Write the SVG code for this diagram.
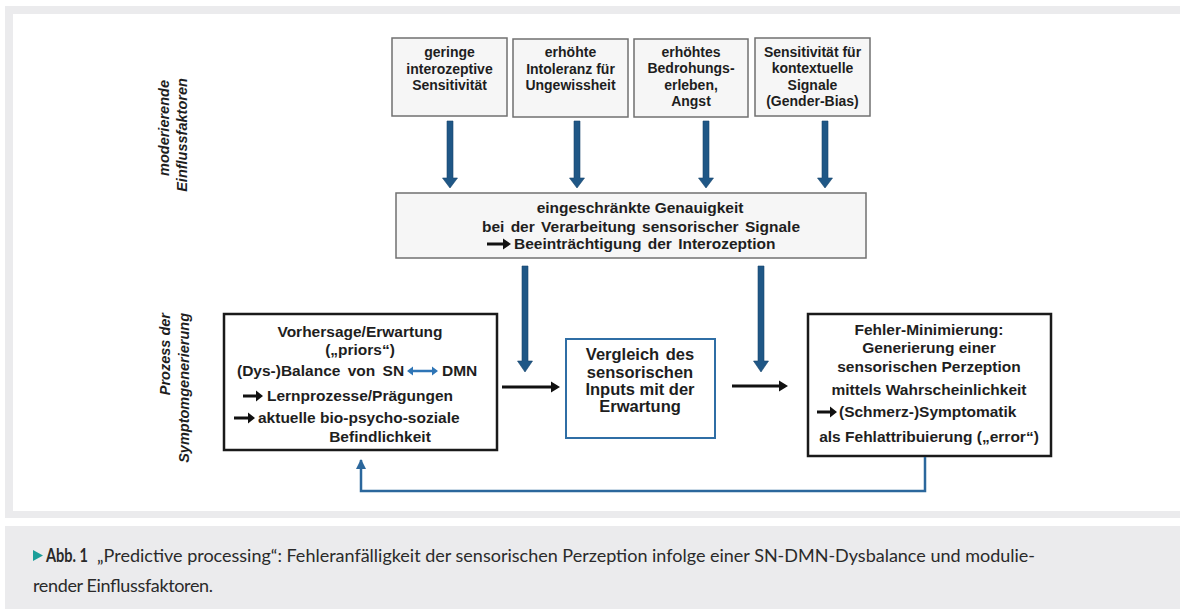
<svg xmlns="http://www.w3.org/2000/svg" width="1180" height="609" viewBox="0 0 1180 609">
<style>
.t{font-family:"Liberation Sans",Arial,sans-serif;font-weight:bold;fill:#1e1e1e}
.s14{font-size:14px}
.s15{font-size:15.5px}
.s16{font-size:16.5px}
.c{text-anchor:middle}
.lab{font-family:"Liberation Sans",Arial,sans-serif;font-weight:bold;font-style:italic;font-size:14.5px;fill:#1e1e1e}
.gbox{fill:#f6f6f6;stroke:#707070;stroke-width:1.5}
.kbox{fill:#ffffff;stroke:#1a1a1a;stroke-width:2.5}
.bbox{fill:#ffffff;stroke:#2f6ea5;stroke-width:2}
.barrow{fill:#1f5786;stroke:#17446b;stroke-width:0.6}
.karrow{fill:#111}
.cap{font-family:Lato,"Open Sans",sans-serif;font-size:18px;fill:#2a2a2a}
</style>
<defs>
<marker id="fb" viewBox="0 0 10 10" refX="9" refY="5" markerWidth="4" markerHeight="4" orient="auto"><path d="M0,0 L10,5 L0,10 z" fill="#2b679c"/></marker>
</defs>
<rect x="0" y="0" width="1180" height="609" fill="#ffffff"/>
<rect x="5" y="6" width="1175" height="512" fill="#ebebed"/>
<rect x="13" y="14" width="1167" height="497" fill="#ffffff"/>
<rect x="5" y="526" width="1175" height="83" fill="#ebebed"/>

<g id="label-moderierende">
<text class="lab" text-anchor="middle" transform="translate(169,128) rotate(-90)">moderierende</text>
<text class="lab" text-anchor="middle" transform="translate(187,135) rotate(-90)">Einflussfaktoren</text>
</g>
<g id="label-prozess">
<text class="lab" text-anchor="end" transform="translate(170,313) rotate(-90)">Prozess der</text>
<text class="lab" text-anchor="end" transform="translate(189,313) rotate(-90)">Symptomgenerierung</text>
</g>

<g id="f1">
<rect class="gbox" x="392" y="38" width="115" height="78"/>
<text class="t s14 c" x="449.5" y="57">geringe</text>
<text class="t s14 c" x="449.5" y="74">interozeptive</text>
<text class="t s14 c" x="449.5" y="90">Sensitivität</text>
</g>
<g id="f2">
<rect class="gbox" x="513" y="39" width="115" height="78"/>
<text class="t s14 c" x="570.5" y="57">erhöhte</text>
<text class="t s14 c" x="570.5" y="74">Intoleranz für</text>
<text class="t s14 c" x="570.5" y="90">Ungewissheit</text>
</g>
<g id="f3">
<rect class="gbox" x="634" y="39" width="114" height="78"/>
<text class="t s14 c" x="691" y="57">erhöhtes</text>
<text class="t s14 c" x="691" y="73">Bedrohungs-</text>
<text class="t s14 c" x="691" y="90">erleben,</text>
<text class="t s14 c" x="691" y="106">Angst</text>
</g>
<g id="f4">
<rect class="gbox" x="755" y="38" width="115" height="78"/>
<text class="t s14 c" x="812.5" y="57">Sensitivität für</text>
<text class="t s14 c" x="812.5" y="73">kontextuelle</text>
<text class="t s14 c" x="812.5" y="90">Signale</text>
<text class="t s14 c" x="812.5" y="106">(Gender-Bias)</text>
</g>

<g id="genauigkeit">
<rect class="gbox" x="396" y="193" width="470" height="65"/>
<text class="t s15 c" x="640" y="213">eingeschränkte Genauigkeit</text>
<text class="t s15 c" x="641" y="232" word-spacing="2">bei der Verarbeitung sensorischer Signale</text>
<path class="karrow" d="M487,242.5 H503 V238.5 L511,244 L503,249.5 V245.5 H487 Z"/>
<text class="t s15" x="514" y="249" word-spacing="2">Beeinträchtigung der Interozeption</text>
</g>

<g id="vorhersage">
<rect class="kbox" x="224" y="314" width="273" height="136"/>
<text class="t s15 c" x="360" y="337">Vorhersage/Erwartung</text>
<text class="t s15 c" x="360" y="355">(„priors“)</text>
<text class="t s15" x="237" y="376" word-spacing="3">(Dys-)Balance von SN</text>
<path fill="#2e75b6" d="M407,371 L413,366.5 V369.8 H432 V366.5 L438,371 L432,375.5 V372.2 H413 V375.5 Z"/>
<text class="t s15" x="442" y="376">DMN</text>
<path class="karrow" d="M243,394.5 H256 V390.5 L263,396 L256,401.5 V397.5 H243 Z"/>
<text class="t s15" x="267" y="401">Lernprozesse/Prägungen</text>
<path class="karrow" d="M234,416.5 H248 V412.5 L255,418 L248,423.5 V419.5 H234 Z"/>
<text class="t s15" x="258" y="423">aktuelle bio-psycho-soziale</text>
<text class="t s15 c" x="380" y="442">Befindlichkeit</text>
</g>

<g id="vergleich">
<rect class="bbox" x="566" y="339" width="149" height="99"/>
<text class="t s16 c" x="640" y="360" word-spacing="2">Vergleich des</text>
<text class="t s16 c" x="640" y="378">sensorischen</text>
<text class="t s16 c" x="640" y="395">Inputs mit der</text>
<text class="t s16 c" x="640" y="412">Erwartung</text>
</g>

<g id="fehler">
<rect class="kbox" x="808" y="314" width="243" height="142"/>
<text class="t s15 c" x="929" y="335">Fehler-Minimierung:</text>
<text class="t s15 c" x="929" y="353">Generierung einer</text>
<text class="t s15 c" x="929" y="372">sensorischen Perzeption</text>
<text class="t s15 c" x="929" y="395">mittels Wahrscheinlichkeit</text>
<path class="karrow" d="M817,410.5 H830 V406.5 L837,412 L830,417.5 V413.5 H817 Z"/>
<text class="t s15" x="839" y="417">(Schmerz-)Symptomatik</text>
<text class="t s15 c" x="929" y="442">als Fehlattribuierung („error“)</text>
</g>

<g id="connectors">
<polygon class="barrow" points="447,121 453,121 453,178 457.5,178 450,188 442.5,178 447,178"/>
<polygon class="barrow" points="574,121 580,121 580,178 584.5,178 577,188 569.5,178 574,178"/>
<polygon class="barrow" points="703,121 709,121 709,178 713.5,178 706,188 698.5,178 703,178"/>
<polygon class="barrow" points="822,121 828,121 828,178 832.5,178 825,188 817.5,178 822,178"/>
<polygon class="barrow" points="522,266 528,266 528,361 532.5,361 525,372 517.5,361 522,361"/>
<polygon class="barrow" points="758,266 764,266 764,361 768.5,361 761,372 753.5,361 758,361"/>
<path class="karrow" d="M502,385.5 H551 V381.5 L560,387 L551,392.5 V388.5 H502 Z"/>
<path class="karrow" d="M732,384.5 H779 V380.5 L788,386 L779,391.5 V387.5 H732 Z"/>
<path d="M925,457 V491 H361 V460" fill="none" stroke="#2b679c" stroke-width="2.5" marker-end="url(#fb)"/>
</g>

<g id="caption">
<path d="M33,550 L43,555.5 L33,561 Z" fill="#1a9e9a"/>
<text class="cap" x="46" y="562" font-weight="bold" fill="#222" textLength="42" lengthAdjust="spacingAndGlyphs">Abb. 1</text>
<text class="cap" x="97" y="562" textLength="938" lengthAdjust="spacing">„Predictive processing“: Fehleranfälligkeit der sensorischen Perzeption infolge einer SN-DMN-Dysbalance und modulie-</text>
<text class="cap" x="33" y="592" textLength="180" lengthAdjust="spacing">render Einflussfaktoren.</text>
</g>
</svg>
